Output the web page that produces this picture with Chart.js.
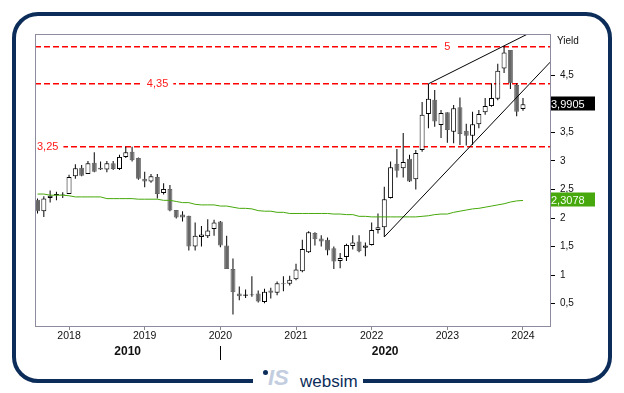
<!DOCTYPE html>
<html><head><meta charset="utf-8">
<script src="https://cdn.jsdelivr.net/npm/chart.js@4/dist/chart.umd.min.js"></script>
<style>
html,body{margin:0;padding:0;background:#fff;width:624px;height:393px;overflow:hidden;font-family:"Liberation Sans",Arial,sans-serif}
#frame{position:absolute;left:12px;top:12px;width:600px;height:371px;box-sizing:border-box;border:4px solid #0c2d5a;border-radius:26px}
#logo{position:absolute;left:253px;top:364px;width:110px;height:28px;background:#fff}
#logo .dot{position:absolute;left:10px;top:5.5px;width:5px;height:5px;border-radius:50%;background:#0c2d5a}
#logo .is{position:absolute;left:15px;top:3px;font:italic bold 22px/22px "Liberation Sans",Arial,sans-serif;color:#c3cde0}
#logo .ws{position:absolute;left:47px;top:9px;font:17px/17px "Liberation Sans",Arial,sans-serif;color:#0c2d5a}
#c{position:absolute;left:0;top:0}
</style></head>
<body>
<div id="frame"></div>
<div id="logo"><span class="dot"></span><span class="is">IS</span><span class="ws">websim</span></div>
<canvas id="c" width="624" height="393"></canvas>
<script>
// ---- data ----
const months = ['2017-08','2017-09','2017-10','2017-11','2017-12',
 '2018-01','2018-02','2018-03','2018-04','2018-05','2018-06','2018-07','2018-08','2018-09','2018-10','2018-11','2018-12',
 '2019-01','2019-02','2019-03','2019-04','2019-05','2019-06','2019-07','2019-08','2019-09','2019-10','2019-11','2019-12',
 '2020-01','2020-02','2020-03','2020-04','2020-05','2020-06','2020-07','2020-08','2020-09','2020-10','2020-11','2020-12',
 '2021-01','2021-02','2021-03','2021-04','2021-05','2021-06','2021-07','2021-08','2021-09','2021-10','2021-11','2021-12',
 '2022-01','2022-02','2022-03','2022-04','2022-05','2022-06','2022-07','2022-08','2022-09','2022-10','2022-11','2022-12',
 '2023-01','2023-02','2023-03','2023-04','2023-05','2023-06','2023-07','2023-08','2023-09','2023-10','2023-11','2023-12',
 '2024-01'];
const open = [2.32,2.12,2.35,2.40,2.41,
 2.42,2.73,2.88,2.77,2.97,2.88,2.85,2.96,2.86,3.07,3.16,3.05,
 2.69,2.64,2.72,2.44,2.51,2.14,2.06,2.04,1.50,1.67,1.68,1.81,
 1.94,1.52,1.11,0.68,0.64,0.65,0.68,0.53,0.73,0.69,0.86,0.85,
 0.93,1.07,1.40,1.74,1.64,1.62,1.47,1.25,1.32,1.51,1.59,1.48,
 1.53,1.79,1.84,2.35,2.95,2.87,3.04,2.68,3.19,3.82,4.07,3.63,
 3.85,3.51,3.94,3.53,3.44,3.64,3.85,3.96,4.09,4.62,4.94,4.33,
 3.91];
const high = [2.34,2.38,2.48,2.46,2.45,
 2.76,2.94,2.93,3.00,3.15,2.99,3.00,3.00,3.11,3.25,3.25,3.06,
 2.81,2.77,2.77,2.61,2.58,2.14,2.12,2.04,1.92,1.86,1.98,1.97,
 1.95,1.69,1.29,0.80,0.75,0.98,0.73,0.76,0.78,0.89,0.98,0.99,
 1.20,1.62,1.77,1.75,1.70,1.66,1.50,1.39,1.55,1.70,1.70,1.57,
 1.92,2.08,2.55,2.99,3.21,3.49,3.11,3.19,4.03,4.35,4.24,3.89,
 3.85,3.98,4.11,3.65,3.86,3.89,4.10,4.36,4.70,5.01,4.94,4.36,
 4.10];
const low = [2.08,2.02,2.27,2.31,2.35,
 2.42,2.69,2.73,2.77,2.80,2.84,2.80,2.84,2.84,3.05,2.99,2.67,
 2.54,2.62,2.34,2.41,2.12,1.99,1.94,1.43,1.43,1.50,1.65,1.69,
 1.49,1.11,0.31,0.56,0.60,0.62,0.52,0.51,0.59,0.65,0.72,0.82,
 0.91,1.05,1.39,1.52,1.50,1.35,1.11,1.12,1.25,1.45,1.40,1.33,
 1.52,1.73,1.67,2.34,2.71,2.71,2.63,2.50,3.16,3.57,3.60,3.40,
 3.32,3.31,3.28,3.27,3.28,3.57,3.81,3.95,4.06,4.54,4.26,3.78,
 3.88];
const close = [2.12,2.34,2.39,2.42,2.42,
 2.72,2.87,2.74,2.96,2.81,2.85,2.96,2.86,3.07,3.15,3.01,2.69,
 2.64,2.73,2.42,2.51,2.13,2.01,2.01,1.50,1.69,1.71,1.78,1.92,
 1.52,1.11,0.70,0.63,0.66,0.66,0.54,0.71,0.69,0.86,0.84,0.92,
 1.10,1.46,1.75,1.63,1.59,1.43,1.24,1.30,1.53,1.57,1.42,1.52,
 1.79,1.84,2.33,2.89,2.83,2.98,2.64,3.14,3.81,4.09,3.69,3.84,
 3.54,3.92,3.47,3.44,3.64,3.82,3.96,4.10,4.58,4.90,4.36,3.86,
 3.9905];
const movingAvg = [2.42,2.42,2.40,2.40,2.40,
 2.39,2.37,2.37,2.37,2.37,2.37,2.34,2.34,2.34,2.34,2.34,2.33,
 2.33,2.33,2.33,2.31,2.31,2.29,2.27,2.27,2.24,2.23,2.23,2.23,
 2.21,2.21,2.19,2.17,2.17,2.16,2.13,2.12,2.12,2.10,2.10,2.08,
 2.08,2.08,2.08,2.08,2.08,2.08,2.07,2.07,2.06,2.06,2.03,2.03,
 2.02,2.02,2.02,2.02,2.02,2.02,2.02,2.02,2.03,2.04,2.06,2.07,
 2.07,2.10,2.12,2.14,2.16,2.17,2.19,2.21,2.23,2.25,2.28,2.30,
 2.3078];
const trendUpper = [{x:2022.75, y:4.35}, {x:2024.36, y:5.42}];
const trendLower = [{x:2022.1667, y:1.67}, {x:2024.36, y:4.73}];
const levelValues = [5, 4.35, 3.25];
const levelLabels = ['5', '4,35', '3,25'];
const decadeLabels = ['2010', '2020'];
const decadeStarts = [2010, 2020];
const axisTitle = 'Yield';

// ---- helpers ----
const xv = months.map(m => { const p = m.split('-').map(Number); return p[0] + (p[1] - 1) / 12; });
const fmt = v => String(v).replace('.', ',');
const levelLabelX = [2023.0, 2019.17, null]; // label anchor (null = at left edge)

const overlay = {
  id: 'overlay',
  beforeDatasetsDraw(chart) {
    const {ctx, chartArea: a, scales: {x, y}} = chart;
    ctx.save();
    ctx.strokeStyle = '#ff0000';
    ctx.lineWidth = 1.5;
    ctx.setLineDash([6, 3]);
    levelValues.forEach(v => {
      const py = y.getPixelForValue(v);
      ctx.beginPath(); ctx.moveTo(a.left, py); ctx.lineTo(a.right, py); ctx.stroke();
    });
    ctx.setLineDash([]);
    ctx.font = '11px "Liberation Sans", Arial, sans-serif';
    ctx.textBaseline = 'middle';
    levelValues.forEach((v, i) => {
      const py = y.getPixelForValue(v);
      const t = levelLabels[i];
      const w = ctx.measureText(t).width;
      const left = levelLabelX[i] === null ? a.left + 2 : x.getPixelForValue(levelLabelX[i]) - w / 2;
      ctx.fillStyle = '#fff';
      ctx.fillRect(left - 5, py - 3, w + 10, 6);
      ctx.fillStyle = '#ff1a1a';
      ctx.fillText(t, left, py + 0.5);
    });
    ctx.restore();
  },
  afterDraw(chart) {
    const {ctx, chartArea: a, scales: {x, y}} = chart;
    ctx.save();
    // plot frame
    ctx.strokeStyle = '#8c8c9e';
    ctx.lineWidth = 1;
    ctx.strokeRect(Math.round(a.left) + 0.5, Math.round(a.top) + 0.5,
                   Math.round(a.right - a.left), Math.round(a.bottom - a.top));
    // axis title
    ctx.fillStyle = '#111';
    ctx.font = '10px "Liberation Sans", Arial, sans-serif';
    ctx.textBaseline = 'middle';
    ctx.textAlign = 'left';
    ctx.fillText(axisTitle, a.right + 7, a.top + 7);
    // value boxes
    const boxes = [[close[close.length - 1], '#000', '#fff'], [movingAvg[movingAvg.length - 1], '#46a80c', '#f4fff0']];
    ctx.font = '11px "Liberation Sans", Arial, sans-serif';
    boxes.forEach(([v, bg, fg]) => {
      const py = y.getPixelForValue(v);
      ctx.fillStyle = bg;
      ctx.fillRect(a.right + 1, Math.round(py) - 7.5, 44, 14);
      ctx.fillStyle = fg;
      ctx.fillText(fmt(v), a.right + 1, Math.round(py) + 0.5);
    });
    // decade labels
    ctx.fillStyle = '#111';
    ctx.font = 'bold 12px "Liberation Sans", Arial, sans-serif';
    ctx.textAlign = 'center';
    decadeStarts.forEach((d, i) => {
      const s = Math.max(d, x.min), e = Math.min(d + 10, x.max);
      if (e <= s) return;
      ctx.fillText(decadeLabels[i], x.getPixelForValue((s + e) / 2), a.bottom + 26);
      if (d > x.min) {
        const px = Math.round(x.getPixelForValue(d)) + 0.5;
        ctx.strokeStyle = '#000';
        ctx.beginPath(); ctx.moveTo(px, a.bottom + 20); ctx.lineTo(px, a.bottom + 34); ctx.stroke();
      }
    });
    ctx.restore();
  }
};

Chart.defaults.font.family = '"Liberation Sans", Arial, sans-serif';
new Chart(document.getElementById('c'), {
  type: 'bar',
  data: {
    datasets: [
      {type: 'line', label: 'Trend upper', data: trendUpper, borderColor: '#000', borderWidth: 1, pointRadius: 0, order: 0},
      {type: 'line', label: 'Trend lower', data: trendLower, borderColor: '#000', borderWidth: 1, pointRadius: 0, order: 0},
      {type: 'line', label: 'MA', data: xv.map((x, i) => ({x, y: movingAvg[i]})), borderColor: '#45a80a', borderWidth: 1, pointRadius: 0, tension: 0, order: 1},
      {type: 'bar', label: 'Body', data: xv.map((x, i) => ({x, y: [open[i], close[i]]})),
        backgroundColor: open.map((o, i) => close[i] >= o ? '#ffffff' : '#666666'),
        borderColor: open.map((o, i) => close[i] >= o ? '#000000' : '#666666'),
        borderWidth: 1, borderSkipped: false, barThickness: 5, grouped: false, inflateAmount: 0, order: 2},
      {type: 'bar', label: 'Wick', data: xv.map((x, i) => ({x, y: [low[i], high[i]]})),
        backgroundColor: '#000', borderWidth: 0, barThickness: 1, grouped: false, inflateAmount: 0, order: 3}
    ]
  },
  options: {
    responsive: false,
    animation: false,
    layout: {padding: {left: 35, top: 34, right: 34, bottom: 47}},
    plugins: {legend: {display: false}, tooltip: {enabled: false}},
    scales: {
      x: {
        type: 'linear', position: 'bottom', min: 2017.55, max: 2024.357, offset: false,
        grid: {drawOnChartArea: false, drawTicks: true, tickLength: 4, color: '#888', offset: false},
        border: {display: false},
        ticks: {stepSize: 1, includeBounds: false, autoSkip: false, maxRotation: 0, padding: 0, color: '#111', font: {size: 10.5}, callback: v => String(v)},
        afterBuildTicks: s => { s.ticks = s.ticks.filter(t => Number.isInteger(t.value)); },
        afterFit: s => { s.height = 20; }
      },
      y: {
        type: 'linear', position: 'right', min: 0.11, max: 5.222,
        grid: {drawOnChartArea: false, drawTicks: true, tickLength: 5, color: '#000'},
        border: {display: false},
        ticks: {stepSize: 0.5, includeBounds: false, padding: 5, color: '#111', font: {size: 10}, callback: v => fmt(v)},
        afterBuildTicks: s => { s.ticks = s.ticks.filter(t => t.value >= 0.49 && t.value <= 4.51); },
        afterFit: s => { s.width = 40; }
      }
    }
  },
  plugins: [overlay]
});
</script>
</body></html>
